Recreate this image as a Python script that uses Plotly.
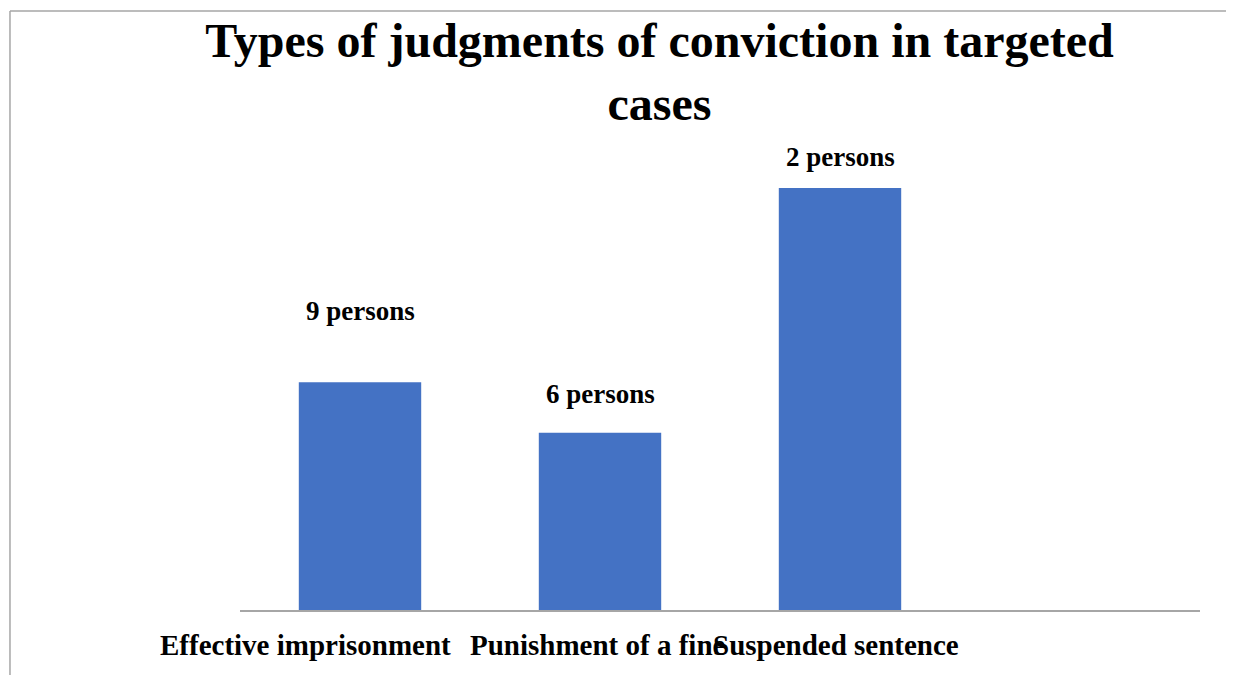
import plotly.graph_objects as go

# data (bar heights, relative units)
categories = ["Effective imprisonment", "Punishment of a fine", "Suspended sentence"]
values = [5.4, 4.2, 10.0]
bar_labels = ["9 persons", "6 persons", "2 persons"]

# vertical offset (px) of each label above its bar, as in the original
label_shift = [71, 39, 31]
tick_shift = [-55, -2, -4]

FONT = "Liberation Serif, Times New Roman, serif"
BLUE = "#4472c4"
GRAY = "#a6a6a6"

fig = go.Figure()
fig.add_trace(go.Bar(
    x=categories,
    y=values,
    marker=dict(color=BLUE, line=dict(width=0)),
    hoverinfo="skip",
))

for cat, val, lab, dy in zip(categories, values, bar_labels, label_shift):
    fig.add_annotation(
        x=cat, y=val, text=f"<b>{lab}</b>",
        showarrow=False, yanchor="middle", yshift=dy,
        font=dict(family=FONT, size=27, color="black"),
    )

# category labels placed by hand, they overlap in the original
for cat, dx in zip(categories, tick_shift):
    fig.add_annotation(
        x=cat, y=0, yref="y", text=f"<b>{cat}</b>",
        showarrow=False, yanchor="middle", yshift=-35, xshift=dx,
        font=dict(family=FONT, size=29, color="black"),
    )

# outer frame of the picture (only top and left edges are visible)
fig.add_shape(type="line", xref="paper", yref="paper",
              x0=-0.2396, x1=-0.2396, y0=-0.2, y1=1.2745,
              line=dict(color=GRAY, width=1.5))
fig.add_shape(type="line", xref="paper", yref="paper",
              x0=-0.2396, x1=1.1, y0=1.2745, y1=1.2745,
              line=dict(color=GRAY, width=1.5))

fig.update_layout(
    width=1234, height=675,
    margin=dict(l=232, r=42, t=132, b=73),
    paper_bgcolor="white",
    plot_bgcolor="white",
    bargap=0.49,
    showlegend=False,
    title=dict(
        text="<b>Types of judgments of conviction in targeted<br>cases</b>",
        x=0.528, xanchor="center",
        y=0.927, yanchor="middle",
        font=dict(family=FONT, size=48, color="black"),
    ),
    xaxis=dict(
        type="category",
        range=[-0.5, 3.5],
        showticklabels=False,
        showgrid=False,
        showline=True, linecolor=GRAY, linewidth=1.5,
        ticks="",
        fixedrange=True,
    ),
    yaxis=dict(
        range=[0, 11.14],
        visible=False,
        showgrid=False,
        zeroline=False,
        fixedrange=True,
    ),
)

fig.write_html("out.html")
